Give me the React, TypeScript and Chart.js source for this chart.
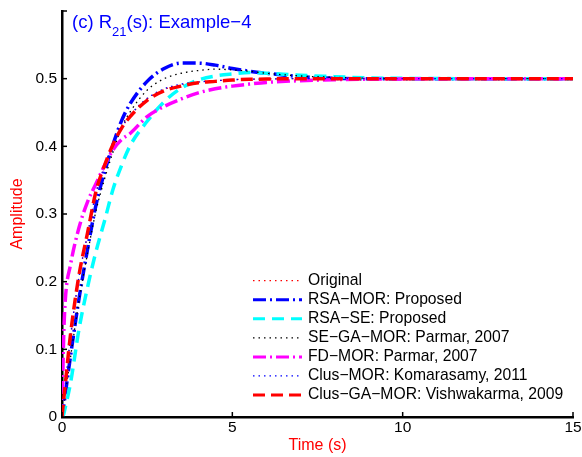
import React, { useEffect, useRef } from 'react';
import { Chart, registerables } from 'chart.js';

Chart.register(...registerables);

// ---- data ----
const timePoints = [0, 0.05, 0.1, 0.25, 0.5, 0.75, 1, 1.25, 1.5, 1.75, 2, 2.5, 3, 3.5, 4, 4.5, 5, 5.5, 6, 7, 8, 9, 10, 12, 15];

const originalVals = [0, 0.024, 0.047, 0.117, 0.206, 0.269, 0.331, 0.37, 0.402, 0.427, 0.445, 0.47, 0.484, 0.491, 0.495, 0.497, 0.4985, 0.4992, 0.4996, 0.5, 0.5, 0.5, 0.5, 0.5, 0.5];
const rsaMorVals = [0, 0.016, 0.035, 0.09, 0.175, 0.248, 0.314, 0.362, 0.403, 0.438, 0.463, 0.496, 0.515, 0.523, 0.523, 0.52, 0.515, 0.511, 0.508, 0.503, 0.5005, 0.5, 0.5, 0.5, 0.5];
const rsaSeVals = [0, 0.004, 0.015, 0.05, 0.13, 0.192, 0.245, 0.29, 0.337, 0.372, 0.401, 0.437, 0.466, 0.486, 0.498, 0.504, 0.507, 0.509, 0.508, 0.505, 0.503, 0.501, 0.5005, 0.5, 0.5];
const seGaMorVals = [0, 0.015, 0.035, 0.088, 0.172, 0.242, 0.305, 0.352, 0.392, 0.428, 0.451, 0.483, 0.5, 0.508, 0.512, 0.514, 0.513, 0.511, 0.508, 0.504, 0.502, 0.5005, 0.5, 0.5, 0.5];
const fdMorVals = [0, 0.12, 0.175, 0.225, 0.28, 0.318, 0.345, 0.372, 0.395, 0.41, 0.419, 0.444, 0.459, 0.47, 0.479, 0.485, 0.489, 0.492, 0.4945, 0.497, 0.4985, 0.4993, 0.4997, 0.5, 0.5];
const clusMorVals = [0, 0.025, 0.048, 0.119, 0.208, 0.27, 0.332, 0.371, 0.403, 0.428, 0.446, 0.471, 0.485, 0.492, 0.495, 0.497, 0.4985, 0.4992, 0.4996, 0.5, 0.5, 0.5, 0.5, 0.5, 0.5];
const clusGaMorVals = [0, 0.026, 0.05, 0.122, 0.21, 0.272, 0.334, 0.372, 0.403, 0.427, 0.444, 0.468, 0.482, 0.489, 0.494, 0.496, 0.498, 0.499, 0.4995, 0.5, 0.5, 0.5, 0.5, 0.5, 0.5];

const seriesLabels = [
  'Original',
  'RSA\u2212MOR: Proposed',
  'RSA\u2212SE: Proposed',
  'SE\u2212GA\u2212MOR: Parmar, 2007',
  'FD\u2212MOR: Parmar, 2007',
  'Clus\u2212MOR: Komarasamy, 2011',
  'Clus\u2212GA\u2212MOR: Vishwakarma, 2009',
];
const seriesValues = [originalVals, rsaMorVals, rsaSeVals, seGaMorVals, fdMorVals, clusMorVals, clusGaMorVals];

const xTicks = [0, 5, 10, 15];
const yTicks = [0, 0.1, 0.2, 0.3, 0.4, 0.5];

const xTitle = 'Time (s)';
const yTitle = 'Amplitude';

// ---- styles ----
const styles = [
  { color: '#ff0000', width: 1.2, dash: [1.5, 4] },
  { color: '#0000ff', width: 3.5, dash: [13, 4, 2, 4] },
  { color: '#00ffff', width: 3.5, dash: [12, 7] },
  { color: '#000000', width: 1.3, dash: [1.5, 4] },
  { color: '#ff00ff', width: 3.5, dash: [13, 4, 2, 4] },
  { color: '#0000ff', width: 1.3, dash: [1.5, 4] },
  { color: '#ff0000', width: 3.5, dash: [12, 6] },
];

const FONT = '"Liberation Sans", Arial, Helvetica, sans-serif';

const zeroPad = (s: any) => {
  s.paddingTop = 0;
  s.paddingBottom = 0;
  s.paddingLeft = 0;
  s.paddingRight = 0;
};

const decorPlugin = {
  id: 'decor',
  afterDraw(chart: any) {
    const ctx = chart.ctx as CanvasRenderingContext2D;
    const xs = chart.scales.x;
    const ys = chart.scales.y;
    const area = chart.chartArea;
    ctx.save();
    // inward tick marks
    ctx.strokeStyle = '#000';
    ctx.lineWidth = 1.5;
    ctx.setLineDash([]);
    xTicks.forEach((t) => {
      const px = xs.getPixelForValue(t);
      ctx.beginPath();
      ctx.moveTo(px, area.bottom);
      ctx.lineTo(px, area.bottom - 5);
      ctx.stroke();
    });
    [...yTicks, 0.6].forEach((t) => {
      const py = ys.getPixelForValue(t);
      ctx.beginPath();
      ctx.moveTo(area.left, py);
      ctx.lineTo(area.left + 5, py);
      ctx.stroke();
    });

    // axis titles
    ctx.fillStyle = '#ff0000';
    ctx.font = `16px ${FONT}`;
    ctx.textAlign = 'center';
    ctx.textBaseline = 'middle';
    ctx.fillText(xTitle, (area.left + area.right) / 2, 446);
    ctx.save();
    ctx.translate(18, (area.top + area.bottom) / 2);
    ctx.rotate(-Math.PI / 2);
    ctx.fillText(yTitle, 0, 0);
    ctx.restore();

    // panel title with subscript
    ctx.fillStyle = '#0000ff';
    ctx.textAlign = 'left';
    ctx.textBaseline = 'alphabetic';
    let x = 72;
    const base = 28;
    ctx.font = `18.5px ${FONT}`;
    const p1 = '(c) R';
    ctx.fillText(p1, x, base);
    x += ctx.measureText(p1).width;
    ctx.font = `13px ${FONT}`;
    ctx.fillText('21', x, base + 8);
    x += ctx.measureText('21').width;
    ctx.font = `18.5px ${FONT}`;
    ctx.fillText('(s): Example\u22124', x, base);

    // legend
    const lx0 = 253;
    const lx1 = 302;
    const tx = 308;
    const y0 = 280.7;
    const step = 19.05;
    ctx.font = `15.7px ${FONT}`;
    ctx.textBaseline = 'middle';
    seriesLabels.forEach((lab, i) => {
      const y = y0 + i * step;
      const s = styles[i];
      ctx.strokeStyle = s.color;
      ctx.lineWidth = Math.min(s.width, 3);
      ctx.lineCap = 'butt';
      ctx.setLineDash(s.dash);
      ctx.beginPath();
      ctx.moveTo(lx0, y);
      ctx.lineTo(lx1, y);
      ctx.stroke();
      ctx.setLineDash([]);
      ctx.fillStyle = '#000';
      ctx.fillText(lab, tx, y);
    });
    ctx.restore();
  },
};

export default function App() {
  const canvasRef = useRef<HTMLCanvasElement | null>(null);

  useEffect(() => {
    document.body.style.margin = '0';
    const canvas = canvasRef.current;
    if (!canvas) return;
    const n = seriesValues.length;
    const datasets = seriesValues.map((vals, i) => ({
      label: seriesLabels[i],
      data: timePoints.map((t, k) => ({ x: t, y: vals[k] })),
      borderColor: styles[i].color,
      borderWidth: styles[i].width,
      borderDash: styles[i].dash,
      borderCapStyle: 'butt' as const,
      pointRadius: 0,
      fill: false,
      cubicInterpolationMode: 'monotone' as const,
      order: n - i,
    }));
    const chart = new Chart(canvas, {
      type: 'line',
      data: { datasets },
      options: {
        animation: false,
        responsive: false,
        maintainAspectRatio: false,
        layout: { padding: { left: 0, top: 11, right: 9, bottom: 0 } },
        plugins: {
          legend: { display: false },
          tooltip: { enabled: false },
          title: { display: false },
        },
        scales: {
          x: {
            type: 'linear',
            min: 0,
            max: 15,
            afterFit: (s: any) => { s.height = 40; zeroPad(s); },
            afterBuildTicks: (s: any) => { s.ticks = xTicks.map((v) => ({ value: v })); },
            ticks: {
              color: '#000',
              font: { family: FONT, size: 15.5 },
              padding: 1,
              maxRotation: 0,
              callback: (v: any) => String(v),
            },
            grid: { display: true, color: 'rgba(0,0,0,0)', drawTicks: false },
            border: { display: true, color: '#000', width: 2.5 },
          },
          y: {
            type: 'linear',
            min: 0,
            max: 0.6,
            afterFit: (s: any) => { s.width = 62; zeroPad(s); },
            afterBuildTicks: (s: any) => { s.ticks = yTicks.map((v) => ({ value: v })); },
            ticks: {
              color: '#000',
              font: { family: FONT, size: 15.5 },
              padding: 5,
              callback: (v: any) => (v === 0 ? '0' : Number(v).toFixed(1)),
            },
            grid: { display: true, color: 'rgba(0,0,0,0)', drawTicks: false },
            border: { display: true, color: '#000', width: 2.5 },
          },
        },
      },
      plugins: [decorPlugin],
    });
    return () => chart.destroy();
  }, []);

  return (
    <div style={{ position: 'fixed', left: 0, top: 0, width: 582, height: 457, background: '#fff' }}>
      <canvas ref={canvasRef} width={582} height={457} style={{ display: 'block' }} />
    </div>
  );
}
